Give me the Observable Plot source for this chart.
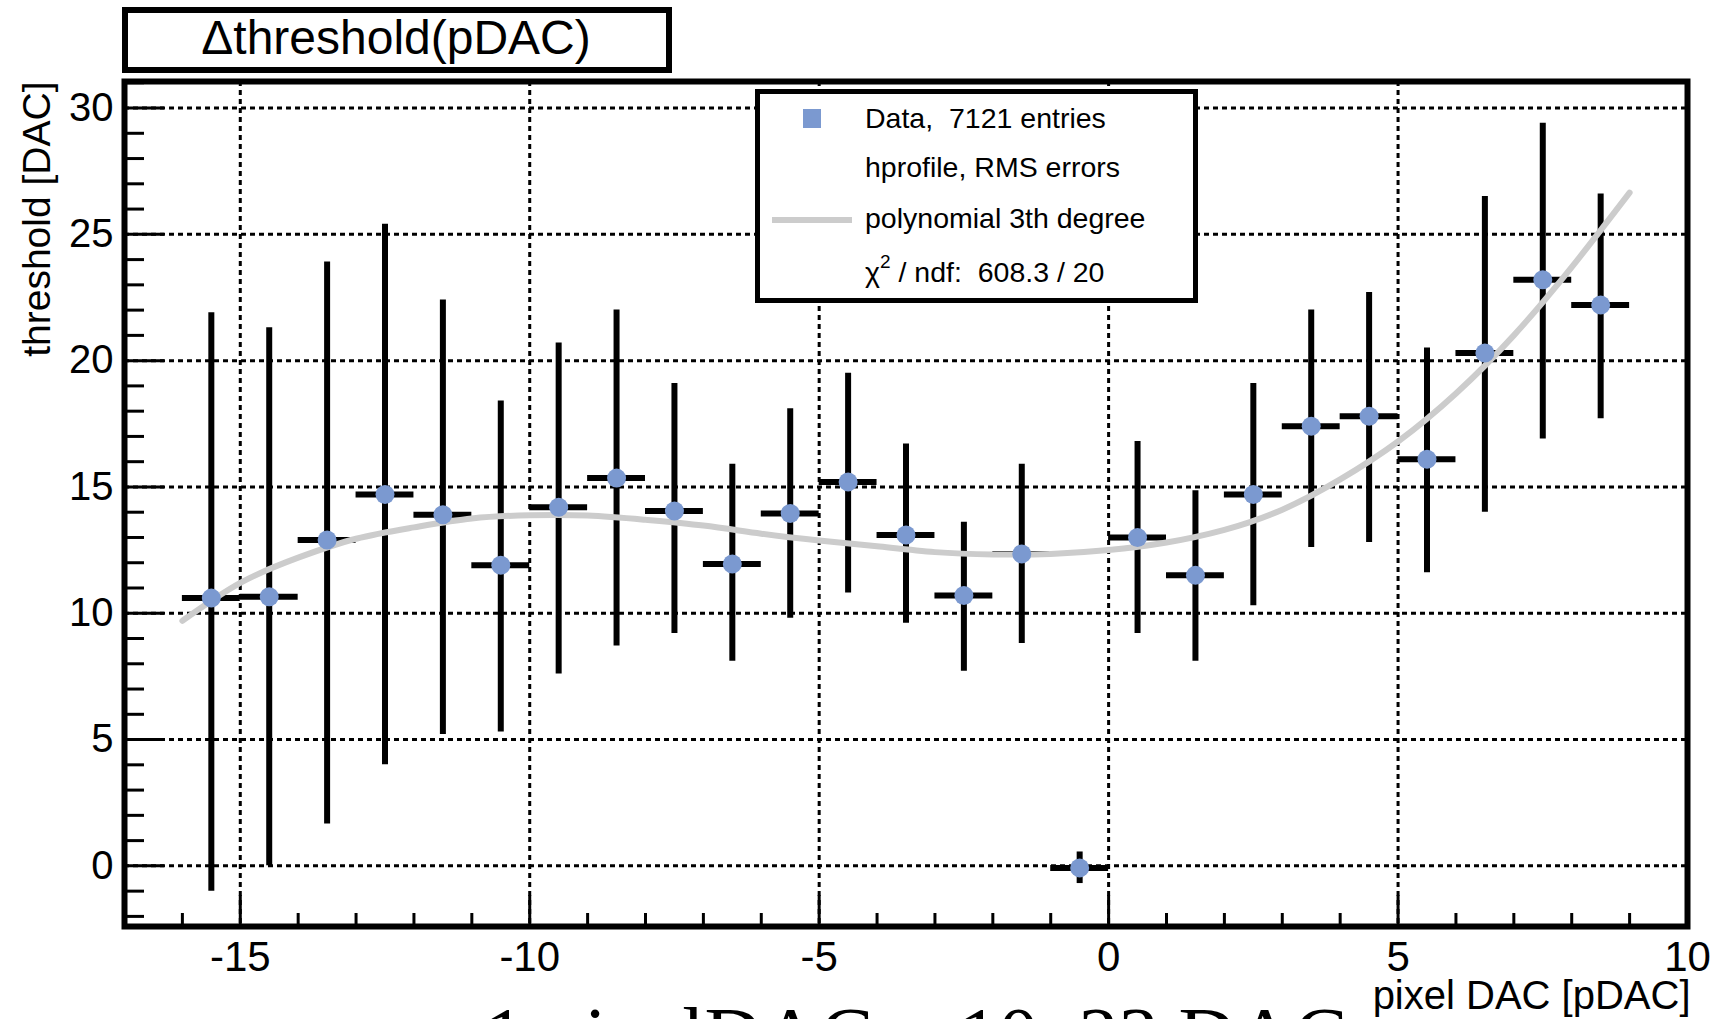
<!DOCTYPE html>
<html><head><meta charset="utf-8">
<script src="https://cdn.jsdelivr.net/npm/d3@7"></script>
<script src="https://cdn.jsdelivr.net/npm/@observablehq/plot@0.6"></script>
<style>
html,body{margin:0;padding:0;background:#fff;overflow:hidden;width:1718px;height:1019px}
#chart svg{display:block}
</style>
</head><body><div id="chart"></div>
<script>
// ---- data ----
const binCenters = [-15.5,-14.5,-13.5,-12.5,-11.5,-10.5,-9.5,-8.5,-7.5,-6.5,-5.5,-4.5,-3.5,-2.5,-1.5,-0.5,0.5,1.5,2.5,3.5,4.5,5.5,6.5,7.5,8.5];
const binWidth = 1;
const meanThreshold = [10.6,10.65,12.9,14.7,13.9,11.9,14.2,15.35,14.05,11.95,13.95,15.2,13.1,10.7,12.35,-0.08,13.0,11.5,14.7,17.4,17.8,16.1,20.3,23.2,22.2];
const errHigh = [21.9,21.3,23.9,25.4,22.4,18.4,20.7,22.0,19.1,15.9,18.1,19.5,16.7,13.6,15.9,0.55,16.8,14.85,19.1,22.0,22.7,20.5,26.5,29.4,26.6];
const errLow  = [-1.0,0.0,1.66,4.0,5.2,5.3,7.6,8.7,9.2,8.1,9.8,10.8,9.6,7.7,8.8,-0.7,9.2,8.1,10.3,12.6,12.8,11.6,14.0,16.9,17.7];

const fitX = [-16,-15,-14,-13,-12,-11,-10,-9,-8,-7,-6,-5,-4,-3,-2,-1,0,1,2,3,4,5,6,7,8,9];
const fitY = [9.7,11.2,12.2,12.95,13.4,13.75,13.88,13.87,13.7,13.47,13.15,12.88,12.65,12.42,12.33,12.35,12.5,12.8,13.3,14.1,15.3,16.8,18.7,21.0,23.7,26.65];

const xMajorTicks = [-15,-10,-5,0,5,10];
const xMinorTicks = [-17,-16,-14,-13,-12,-11,-9,-8,-7,-6,-4,-3,-2,-1,1,2,3,4,6,7,8,9];
const yMajorTicks = [0,5,10,15,20,25,30];
const yMinorTicks = [-2,-1,1,2,3,4,6,7,8,9,11,12,13,14,16,17,18,19,21,22,23,24,26,27,28,29,31];

const titleText = "\u0394threshold(pDAC)";
const xTitle = "pixel DAC [pDAC]";
const yTitle = "threshold [DAC]";
const captionText = "1 pixelDAC = 10..23 DAC";
const legendRows = ["Data,  7121 entries", "hprofile, RMS errors", "polynomial 3th degree", "/ ndf:  608.3 / 20"];

const blue = "#7b99d0";
const gray = "#cccccc";
const sans = "'Liberation Sans', Arial, Helvetica, sans-serif";

const points = binCenters.map((x, i) => ({x, y: meanThreshold[i], lo: errLow[i], hi: errHigh[i], x1: x - binWidth/2, x2: x + binWidth/2}));
const fit = fitX.map((x, i) => ({x, y: fitY[i]}));

const gridStyle = {stroke: "black", strokeOpacity: 1, strokeWidth: 3, strokeDasharray: "5,4"};

const chart = Plot.plot({
  width: 1718, height: 1019,
  marginLeft: 124, marginRight: 31, marginTop: 81, marginBottom: 93,
  x: {domain: [-17, 10], label: null},
  y: {domain: [-2.4, 31.05], label: null},
  style: {fontFamily: sans, background: "white", color: "black", overflow: "visible"},
  marks: [
    Plot.gridX(xMajorTicks.filter(v => v < 10), gridStyle),
    Plot.gridY(yMajorTicks, gridStyle),
    Plot.axisX(xMinorTicks, {tickSize: -13, strokeWidth: 3, text: null, label: null}),
    Plot.axisX(xMajorTicks, {tickSize: -31, strokeWidth: 3, text: null, label: null}),
    Plot.axisX(xMajorTicks, {tickSize: 0, tickPadding: 15, fontSize: 42, tickFormat: d => `${d}`, label: null}),
    Plot.axisY(yMinorTicks, {tickSize: -20, strokeWidth: 3, text: null, label: null}),
    Plot.axisY(yMajorTicks, {tickSize: -40, strokeWidth: 3, text: null, label: null}),
    Plot.axisY(yMajorTicks, {tickSize: 0, tickPadding: 11, fontSize: 40, tickFormat: d => `${d}`, label: null}),
    Plot.ruleX(points, {x: "x", y1: "lo", y2: "hi", stroke: "black", strokeWidth: 6}),
    Plot.ruleY(points, {y: "y", x1: "x1", x2: "x2", stroke: "black", strokeWidth: 6}),
    Plot.line(fit, {x: "x", y: "y", stroke: gray, strokeWidth: 6, curve: "natural"}),
    Plot.dot(points, {x: "x", y: "y", r: 9.5, fill: blue, stroke: "none"}),
    Plot.frame({stroke: "black", strokeWidth: 6}),
    Plot.text([xTitle], {text: d => d, frameAnchor: "bottom-right", textAnchor: "end", lineAnchor: "bottom", dx: 3, dy: 82, fontSize: 40, fill: "black"}),
    Plot.text([yTitle], {text: d => d, frameAnchor: "top-left", rotate: -90, textAnchor: "end", lineAnchor: "bottom", dx: -75, dy: 0, fontSize: 39, fill: "black"}),
    Plot.text([captionText], {text: d => d, frameAnchor: "bottom-left", textAnchor: "start", lineAnchor: "bottom", dx: 360, dy: 136, fontSize: 80, fontFamily: "'Liberation Serif', 'Times New Roman', serif", fill: "black"})
  ]
});
document.getElementById("chart").appendChild(chart);

// ---- title box and legend box ----
const svg = d3.select(chart);
const tb = svg.append("g");
tb.append("rect").attr("x", 125).attr("y", 10).attr("width", 544).attr("height", 60)
  .attr("fill", "white").attr("stroke", "black").attr("stroke-width", 6);
tb.append("text").attr("x", 396).attr("y", 54).attr("text-anchor", "middle")
  .attr("font-family", sans).attr("font-size", 48).attr("fill", "black").text(titleText);

const lg = svg.append("g").attr("font-family", sans).attr("font-size", 28.5).attr("fill", "black").attr("text-anchor", "start");
lg.append("rect").attr("x", 757.5).attr("y", 91.5).attr("width", 438).attr("height", 209)
  .attr("fill", "white").attr("stroke", "black").attr("stroke-width", 5);
lg.append("rect").attr("x", 803).attr("y", 109).attr("width", 18).attr("height", 19).attr("fill", blue);
lg.append("line").attr("x1", 772).attr("x2", 852).attr("y1", 220).attr("y2", 220)
  .attr("stroke", gray).attr("stroke-width", 6);
const baselines = [128, 177, 228, 282];
legendRows.forEach((t, i) => {
  const tx = lg.append("text").attr("x", 865).attr("y", baselines[i]).attr("text-anchor", "start").style("white-space", "pre");
  if (i === 3) {
    tx.append("tspan").text("\u03c7");
    tx.append("tspan").attr("font-size", 19).attr("dy", -14).text("2");
    tx.append("tspan").attr("dy", 14).text(" " + t);
  } else {
    tx.text(t);
  }
});
</script>
</body></html>
